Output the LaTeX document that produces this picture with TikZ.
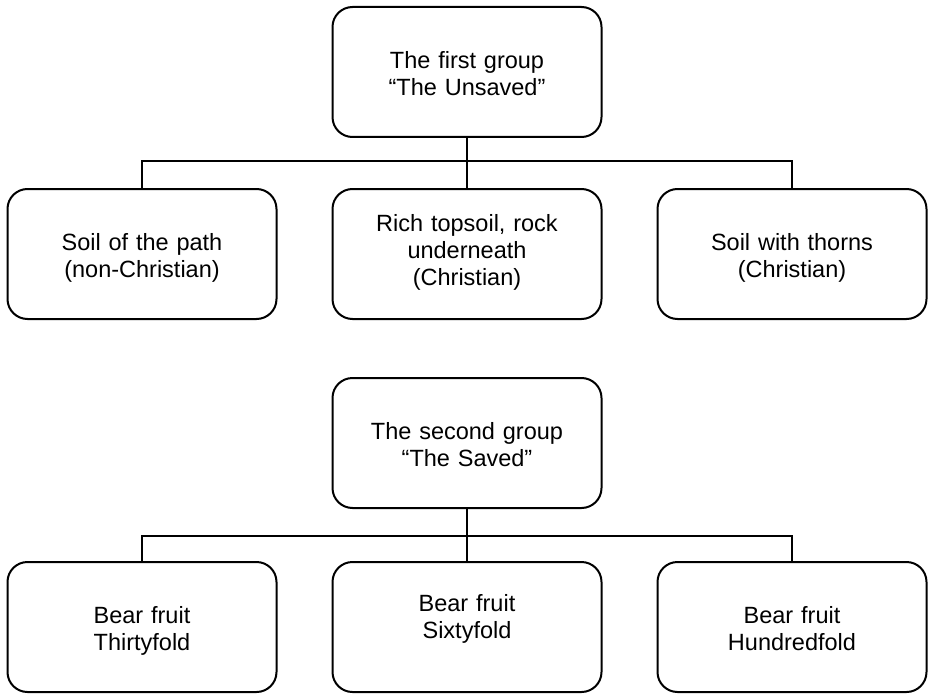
\documentclass[tikz,border=0pt]{standalone}
\usepackage{fontspec}
\setmainfont{Liberation Sans}

\begin{document}
\begin{tikzpicture}[x=1pt,y=-1pt,
  box/.style={draw,line width=2pt,rounded corners=20pt,minimum width=269pt,
    minimum height=130pt,inner sep=0pt,text width=250pt,align=center,
    font=\fontsize{23.5}{27}\selectfont,
    execute at begin node=\rule{0pt}{24pt},
    execute at end node=\rule[-4pt]{0pt}{0pt}},
  link/.style={line width=2pt}]
\useasboundingbox (0,0) rectangle (928,695);

% first group
\node[box] (unsaved) at (467,72) {The first group\\“The Unsaved”};
\node[box] (path) at (142,254) {Soil of the path\\(non-Christian)};
\node[box] (rock) at (467,254) {Rich topsoil, rock\\underneath\\(Christian)\rule[-15pt]{0pt}{0pt}};
\node[box] (thorns) at (792,254) {Soil with thorns\\(Christian)};
\coordinate (bar1) at (467,161);
\draw[link] (unsaved) -- (rock);
\draw[link] (path.north) |- (bar1) -| (thorns.north);

% second group
\node[box] (saved) at (467,443) {The second group\\“The Saved”};
\node[box] (thirty) at (142,627) {Bear fruit\\Thirtyfold};
\node[box] (sixty) at (467,627) {Bear fruit\\Sixtyfold\rule[-28pt]{0pt}{0pt}};
\node[box] (hundred) at (792,627) {Bear fruit\\Hundredfold};
\coordinate (bar2) at (467,536);
\draw[link] (saved) -- (sixty);
\draw[link] (thirty.north) |- (bar2) -| (hundred.north);
\end{tikzpicture}
\end{document}
